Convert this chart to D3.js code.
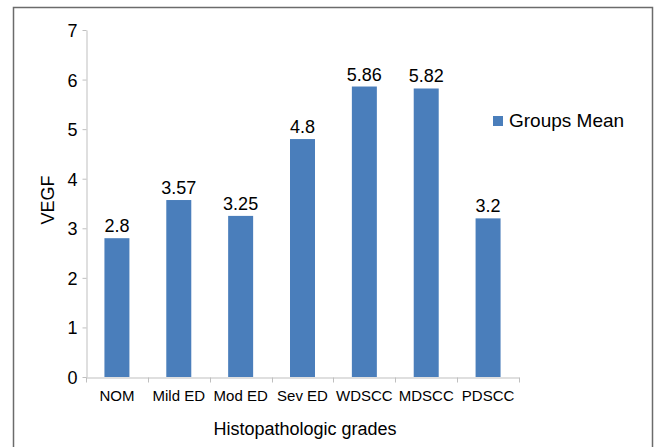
<!DOCTYPE html>
<html>
<head>
<meta charset="utf-8">
<script src="https://cdn.jsdelivr.net/npm/d3@7"></script>
<style>
  html, body { margin: 0; padding: 0; background: #fff; }
  svg { display: block; font-family: "Liberation Sans", Arial, sans-serif; }
</style>
</head>
<body>
<svg id="chart" width="659" height="447"></svg>
<script>
const categories = ["NOM", "Mild ED", "Mod ED", "Sev ED", "WDSCC", "MDSCC", "PDSCC"];
const values = [2.8, 3.57, 3.25, 4.8, 5.86, 5.82, 3.2];
const valueLabels = ["2.8", "3.57", "3.25", "4.8", "5.86", "5.82", "3.2"];
const yTicks = [0, 1, 2, 3, 4, 5, 6, 7];
const seriesName = "Groups Mean";
const xTitle = "Histopathologic grades";
const yTitle = "VEGF";

const svg = d3.select("#chart");
const barColor = "#4a7ebb";
const axisColor = "#bfbfbf";

// outer border
svg.append("rect")
  .attr("x", 13.5).attr("y", 7.5)
  .attr("width", 639).attr("height", 445)
  .attr("fill", "none").attr("stroke", "#6b6b6b").attr("stroke-width", 1.5);

const x = d3.scaleBand().domain(categories).range([86, 519]).padding(0);
const y = d3.scaleLinear().domain([0, 7]).range([377, 30]);

// y axis
const yAxis = d3.axisLeft(y).tickValues(yTicks).tickSize(4).tickSizeOuter(0).tickFormat(d3.format("d"));
const gy = svg.append("g").attr("transform", "translate(86.5,0)").call(yAxis);
gy.select(".domain").attr("stroke", axisColor);
gy.selectAll(".tick line").attr("stroke", axisColor);
gy.selectAll(".tick text")
  .attr("x", -9).attr("dy", "0.36em")
  .attr("font-size", 18).attr("fill", "#000")
  .attr("font-family", "Liberation Sans, Arial, sans-serif");

// x axis
const xAxis = d3.axisBottom(x).tickSize(0).tickSizeOuter(0);
const gx = svg.append("g").attr("transform", "translate(0,377.5)").call(xAxis);
gx.select(".domain").attr("stroke", axisColor);
gx.selectAll(".tick text")
  .attr("y", 13).attr("dy", "0.71em")
  .attr("font-size", 15).attr("fill", "#000")
  .attr("font-family", "Liberation Sans, Arial, sans-serif");
// boundary ticks between categories
const bounds = categories.map(c => x(c)).concat([x.range()[1]]);
gx.selectAll(".bound").data(bounds).enter().append("line")
  .attr("class", "bound")
  .attr("x1", d => Math.round(d) + 0.5).attr("x2", d => Math.round(d) + 0.5)
  .attr("y1", 0).attr("y2", 5)
  .attr("stroke", axisColor);

// bars
const barW = x.bandwidth() * 0.404;
svg.append("g").selectAll("rect").data(values).enter().append("rect")
  .attr("x", (d, i) => x(categories[i]) + (x.bandwidth() - barW) / 2)
  .attr("y", d => y(d))
  .attr("width", barW)
  .attr("height", d => y(0) - y(d))
  .attr("fill", barColor);

// value labels
svg.append("g").selectAll("text").data(values).enter().append("text")
  .attr("x", (d, i) => x(categories[i]) + x.bandwidth() / 2)
  .attr("y", d => y(d) - 6)
  .attr("text-anchor", "middle")
  .attr("font-size", 18).attr("fill", "#000")
  .text((d, i) => valueLabels[i]);

// axis titles
svg.append("text")
  .attr("transform", "translate(54,200) rotate(-90)")
  .attr("text-anchor", "middle")
  .attr("font-size", 18).attr("fill", "#000")
  .text(yTitle);

svg.append("text")
  .attr("x", 305).attr("y", 435)
  .attr("text-anchor", "middle")
  .attr("font-size", 18).attr("fill", "#000")
  .text(xTitle);

// legend
const legend = svg.append("g").attr("transform", "translate(493,116)");
legend.append("rect").attr("width", 10).attr("height", 10).attr("fill", barColor);
legend.append("text").attr("x", 16).attr("y", 10.5)
  .attr("font-size", 19).attr("fill", "#000")
  .text(seriesName);
</script>
</body>
</html>
